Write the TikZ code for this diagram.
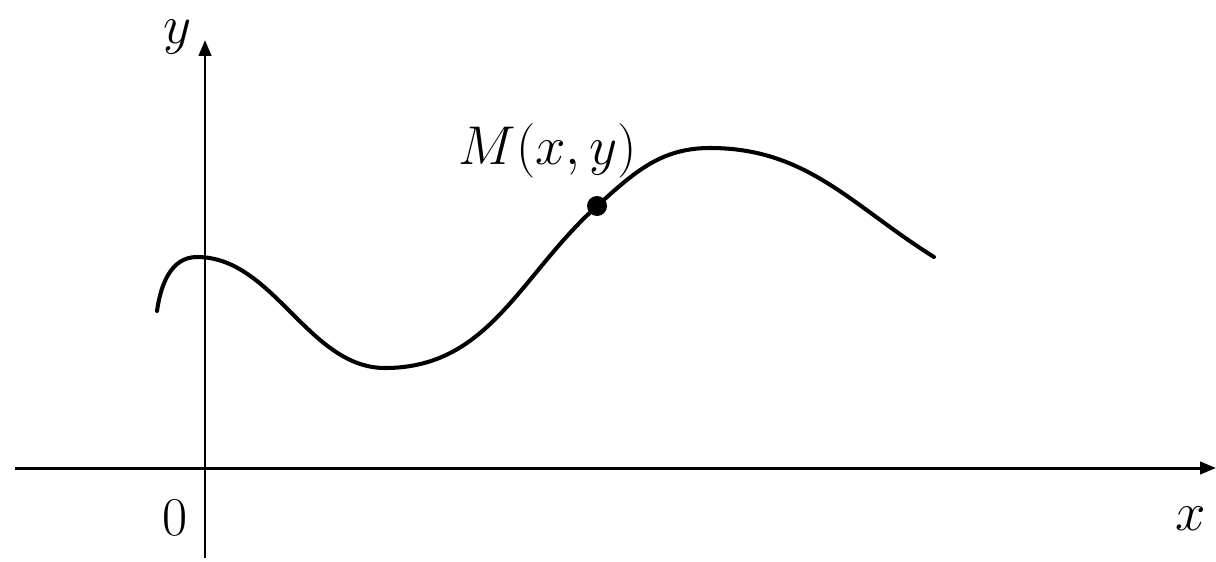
\documentclass[tikz,border=0pt]{standalone}
\usepackage{tikz}
\usetikzlibrary{arrows.meta, positioning}

\tikzset{
    axis/.style={line width=1.7pt, -{Triangle[length=9pt, width=7pt]}},
    graphline/.style={line width=2.3pt, line cap=round},
    lbl/.style={font=\Huge, scale=1.25, inner sep=0pt}
}

\begin{document}
\begin{tikzpicture}[x=0.02cm, y=-0.02cm]
        \useasboundingbox (0,0) rectangle (1216,561);
        % axes
        \coordinate (xstart) at (15,468);
        \coordinate (xend) at (1216,468);
        \coordinate (ystart) at (205,558);
        \coordinate (yend) at (205,40);
        \draw[axis] (xstart) -- (xend);
        \draw[axis] (ystart) -- (yend);
        \node[lbl] (xlabel) at (1191,519) {$x$};
        \node[lbl] (ylabel) at (178,37) {$y$};
        \node[lbl] (origin) at (175,518) {$0$};
        % curve
        \coordinate (start) at (157,311);
        \coordinate (peakA) at (197,257);
        \coordinate (valley) at (385,368);
        \coordinate (pointM) at (597,206);
        \coordinate (peakB) at (710,148);
        \coordinate (finish) at (934,257);
        \draw[graphline] (start) to[out=82, in=180] (peakA)
            to[out=0, in=180, looseness=0.9] (valley)
            to[out=0, in=222] (pointM)
            to[out=42, in=180] (peakB)
            to[out=0, in=148] (finish);
        \fill (pointM) circle (10);
        \node[lbl] (mlabel) at (548,151) {$M(x,y)$};
    \end{tikzpicture}
\end{document}
